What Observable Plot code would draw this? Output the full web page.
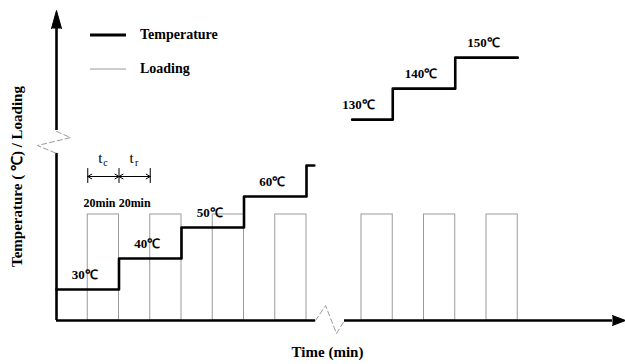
<!DOCTYPE html>
<html><head><meta charset="utf-8">
<script src="https://cdn.jsdelivr.net/npm/d3@7"></script>
<script src="https://cdn.jsdelivr.net/npm/@observablehq/plot@0.6"></script>
<style>
body{margin:0;background:#fff;}
#wrap{position:relative;width:625px;height:364px;font-family:"Liberation Serif","Times New Roman",serif;}
.leg{position:absolute;left:90px;display:flex;align-items:center;font-weight:bold;font-size:14px;color:#000;}
.leg svg{margin-right:14px;}
</style></head><body><div id="wrap"></div>
<script>
// Temperature stages (40 min each), segment before the axis break
const stageStartA = [0, 40, 80, 120, 160];
const stageTempA = [30, 40, 50, 60, 70];
const stageEndA = 165;
// Temperature stages after the axis break
const stageStartB = [400, 440, 480];
const stageTempB = [130, 140, 150];
const visibleStartB = 414;
const stageEndB = 520;
// Loading periods (t_c = 20 min), then recovery t_r = 20 min
const loadStart = [20, 60, 100, 140, 420, 460, 500];
const loadDuration = 20;
const recoveryDuration = 20;
const loadLevel = 54.2;        // loading amplitude, drawn on the shared vertical scale
const baseLevel = 20;          // bottom of the vertical axis
const labelOffset = 18;        // label placed this many minutes after a stage starts
const unit = "℃";

// Axis breaks: hidden time span and hidden temperature span
const xGapAt = 287, xGap = 224.8;
const yGapAt = 100, yGap = 45.21;

const lineA = stageStartA.map((t, i) => ({t, v: stageTempA[i]})).concat([{t: stageEndA, v: stageTempA[stageTempA.length - 1]}]);
const lineB = stageStartB.map((t, i) => ({t: i === 0 ? visibleStartB : t, v: stageTempB[i]})).concat([{t: stageEndB, v: stageTempB[stageTempB.length - 1]}]);
const labels = stageStartA.slice(0, 4).map((t, i) => ({t: t + labelOffset, v: stageTempA[i], s: stageTempA[i] + unit}))
  .concat(stageStartB.map((t, i) => ({t: t + labelOffset, v: stageTempB[i], s: stageTempB[i] + unit})));
const loads = loadStart.map(t => ({t1: t, t2: t + loadDuration}));

// Broken axes (schematic)
const yAxisLow = [baseLevel, 73.9], yAxisHigh = [126.5, 159.4], yTip = 165.2;
const xAxisLow = [0, 165.8], xAxisHigh = [409.1, 580.6], xTip = 589;
const yBreak = [{t: 0, v: 126.2}, {t: 9, v: 124.2}, {t: -12.2, v: 76.45}, {t: 0, v: 73.9}];
const xBreak = [{t: 165.8, v: 20}, {t: 172.2, v: 24.8}, {t: 404, v: 15.8}, {t: 409.1, v: 20}];
const yArrow = [{t: -3.2, v: yAxisHigh[1]}, {t: 0, v: yTip}, {t: 3.2, v: yAxisHigh[1]}];
const xArrow = [{t: xAxisHigh[1], v: 21.6}, {t: xTip, v: baseLevel}, {t: xAxisHigh[1], v: 18.4}];

// t_c / t_r annotation
const annT0 = loadStart[0];
const annLevel = 66.45, annBar = [64.2, 69.0], annText = 57.7, annSym = 72.3;
const ann = [
  {t1: annT0, t2: annT0 + loadDuration, sub: "c"},
  {t1: annT0 + loadDuration, t2: annT0 + loadDuration + recoveryDuration, sub: "r"}
];
const annHalves = ann.flatMap(d => [{from: (d.t1 + d.t2) / 2, to: d.t1}, {from: (d.t1 + d.t2) / 2, to: d.t2}]);
const annLabelX = d => (d.t1 + d.t2) / 2 + (d.t1 === annT0 ? -2.5 : 0);

const black = "#000", gray = "#9a9a9a";
const plot = Plot.plot({
  width: 625, height: 364,
  marginTop: 0, marginBottom: 0, marginLeft: 0, marginRight: 0,
  style: {fontFamily: '"Liberation Serif","Times New Roman",serif', background: "white"},
  x: {type: "linear", transform: t => t > xGapAt ? t - xGap : t, domain: [0, 364.16], range: [56, 625], axis: null},
  y: {type: "linear", transform: v => v > yGapAt ? v - yGap : v, domain: [20, 120], range: [320, 10], axis: null},
  marks: [
    Plot.rect(loads, {x1: "t1", x2: "t2", y1: baseLevel, y2: loadLevel, fill: "none", stroke: gray, strokeWidth: 1}),
    Plot.ruleX([0], {y1: yAxisLow[0], y2: yAxisLow[1], stroke: black, strokeWidth: 2.6}),
    Plot.ruleX([0], {y1: yAxisHigh[0], y2: yAxisHigh[1], stroke: black, strokeWidth: 2.6}),
    Plot.ruleY([baseLevel], {x1: xAxisLow[0], x2: xAxisLow[1], stroke: black, strokeWidth: 2.6}),
    Plot.ruleY([baseLevel], {x1: xAxisHigh[0], x2: xAxisHigh[1], stroke: black, strokeWidth: 2.6}),
    Plot.line(yArrow, {x: "t", y: "v", fill: black, stroke: black, strokeWidth: 1}),
    Plot.line(xArrow, {x: "t", y: "v", fill: black, stroke: black, strokeWidth: 1}),
    Plot.line(yBreak, {x: "t", y: "v", stroke: gray, strokeWidth: 1, strokeDasharray: "5,3"}),
    Plot.line(xBreak, {x: "t", y: "v", stroke: gray, strokeWidth: 1, strokeDasharray: "5,3"}),
    Plot.line(lineA, {x: "t", y: "v", curve: "step-after", stroke: black, strokeWidth: 2.6}),
    Plot.line(lineB, {x: "t", y: "v", curve: "step-after", stroke: black, strokeWidth: 2.6}),
    Plot.text(labels, {x: "t", y: "v", text: "s", dy: -15, fontSize: 13, fontWeight: "bold", fill: black}),
    // annotation
    Plot.arrow(annHalves, {x1: "from", x2: "to", y1: annLevel, y2: annLevel, stroke: black, strokeWidth: 1, headLength: 7, headAngle: 60, insetStart: 0, insetEnd: 0}),
    Plot.ruleX([ann[0].t1, ann[0].t2, ann[1].t2], {y1: annBar[0], y2: annBar[1], stroke: black, strokeWidth: 1}),
    Plot.text(ann, {x: annLabelX, y: annText, text: () => "20min", fontSize: 12, fontWeight: "bold", fill: black}),
    Plot.text(ann, {x: d => (d.t1 + d.t2) / 2, y: annSym, text: () => "t", dx: -3, fontSize: 15, fill: black}),
    Plot.text(ann, {x: d => (d.t1 + d.t2) / 2, y: annSym, text: "sub", dx: 2, dy: 4, fontSize: 10, fill: black}),
    // axis titles
    Plot.text(["Time (min)"], {frameAnchor: "bottom", textAnchor: "middle", lineAnchor: "middle", dx: 14.5, dy: -12, fontSize: 15, fontWeight: "bold", fill: black}),
    Plot.text(["Temperature ( ℃) / Loading"], {frameAnchor: "left", textAnchor: "middle", lineAnchor: "middle", rotate: -90, dx: 17, dy: -6, fontSize: 15, fontWeight: "bold", fill: black})
  ]
});
const wrap = document.getElementById("wrap");
wrap.appendChild(plot);
const legendItems = [
  {label: "Temperature", color: black, w: 3, top: 26},
  {label: "Loading", color: gray, w: 1, top: 60}
];
for (const it of legendItems) {
  const d = document.createElement("div");
  d.className = "leg";
  d.style.top = it.top + "px";
  d.innerHTML = `<svg width="36" height="18"><line x1="0" x2="36" y1="9" y2="9" stroke="${it.color}" stroke-width="${it.w}"/></svg><span>${it.label}</span>`;
  wrap.appendChild(d);
}
</script></body></html>
